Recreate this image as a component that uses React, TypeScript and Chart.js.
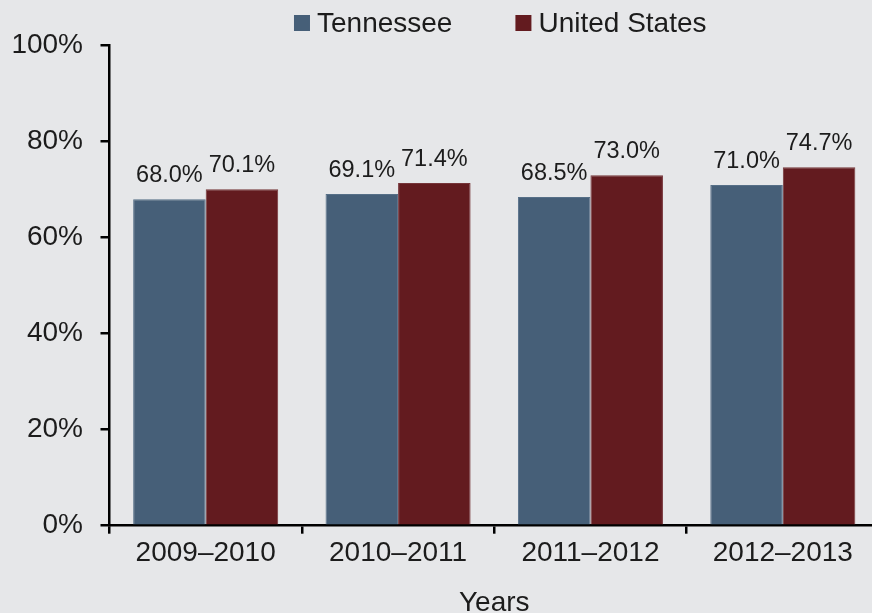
import React, { useEffect, useRef } from "react";
import { Chart, registerables } from "chart.js";

Chart.register(...registerables);

const categories = ["2009–2010", "2010–2011", "2011–2012", "2012–2013"];
const seriesNames = ["Tennessee", "United States"];
const tennessee = [68.0, 69.1, 68.5, 71.0];
const unitedStates = [70.1, 71.4, 73.0, 74.7];
const seriesColors = ["#465f78", "#631b1f"];
const seriesBorders = ["#566f87", "#763539"];
const yTicks = [0, 20, 40, 60, 80, 100];
const xTitle = "Years";

const FONT = "'Liberation Sans', Arial, Helvetica, sans-serif";
const TEXT = "#1c1c1c";
const BG = "#e6e7e9";

const W = 890;
const H = 625;

const valueLabels = {
  id: "valueLabels",
  afterDatasetsDraw(chart: any) {
    const ctx = chart.ctx;
    ctx.save();
    ctx.font = `23.5px ${FONT}`;
    ctx.fillStyle = TEXT;
    ctx.textAlign = "center";
    ctx.textBaseline = "alphabetic";
    chart.data.datasets.forEach((ds: any, i: number) => {
      const meta = chart.getDatasetMeta(i);
      meta.data.forEach((el: any, j: number) => {
        const v = ds.data[j] as number;
        ctx.fillText(v.toFixed(1) + "%", el.x, el.y - 17);
      });
    });
    ctx.restore();
  },
};

const customLegend = {
  id: "customLegend",
  afterDraw(chart: any) {
    const ctx = chart.ctx;
    const area = chart.chartArea;
    ctx.save();
    ctx.font = `28px ${FONT}`;
    ctx.textBaseline = "middle";
    ctx.textAlign = "left";
    const box = 16;
    const gap = 7;
    const itemGap = 63;
    const widths = seriesNames.map((n) => ctx.measureText(n).width);
    const total =
      widths.reduce((a, b) => a + box + gap + b, 0) + itemGap * (seriesNames.length - 1);
    let x = (area.left + area.right) / 2 + 6 - total / 2;
    const cy = 23;
    seriesNames.forEach((n, i) => {
      ctx.fillStyle = seriesColors[i];
      ctx.fillRect(x, cy - box / 2, box, box);
      ctx.fillStyle = TEXT;
      ctx.fillText(n, x + box + gap, cy + 1);
      x += box + gap + widths[i] + itemGap;
    });
    ctx.restore();
  },
};

export default function App() {
  const ref = useRef<HTMLCanvasElement | null>(null);

  useEffect(() => {
    if (!ref.current) return;
    const chart = new Chart(ref.current, {
      type: "bar",
      data: {
        labels: categories,
        datasets: [
          {
            label: seriesNames[0],
            data: tennessee,
            backgroundColor: seriesColors[0],
            borderColor: seriesBorders[0],
            borderWidth: 1,
            barPercentage: 1,
            categoryPercentage: 0.754,
          },
          {
            label: seriesNames[1],
            data: unitedStates,
            backgroundColor: seriesColors[1],
            borderColor: seriesBorders[1],
            borderWidth: 1,
            barPercentage: 1,
            categoryPercentage: 0.754,
          },
        ],
      },
      options: {
        responsive: false,
        animation: false,
        devicePixelRatio: 1,
        layout: { padding: { top: 45.7, right: 11, bottom: 0, left: 0 } },
        plugins: {
          legend: { display: false },
          tooltip: { enabled: false },
        },
        scales: {
          x: {
            grid: {
              drawOnChartArea: false,
              drawTicks: true,
              tickLength: 8,
              color: "#000",
              lineWidth: 2.5,
              offset: true,
            },
            border: { display: true, color: "#000", width: 2.5 },
            ticks: {
              color: TEXT,
              font: { family: FONT, size: 28 },
              padding: 3,
              maxRotation: 0,
            },
            title: {
              display: true,
              text: xTitle,
              color: TEXT,
              font: { family: FONT, size: 28 },
              padding: { top: 0, bottom: 5 },
            },
            afterFit(scale: any) {
              scale.height = H - 525.7;
            },
          },
          y: {
            min: 0,
            max: 100,
            afterBuildTicks(scale: any) {
              scale.ticks = yTicks.map((v) => ({ value: v }));
            },
            grid: {
              drawOnChartArea: false,
              drawTicks: true,
              tickLength: 9,
              color: "#000",
              lineWidth: 2.5,
            },
            border: { display: true, color: "#000", width: 2.5 },
            ticks: {
              color: TEXT,
              font: { family: FONT, size: 28 },
              padding: 17.5,
              callback: (v: any) => v + "%",
            },
            afterFit(scale: any) {
              scale.width = 109.5;
            },
          },
        },
      },
      plugins: [valueLabels, customLegend],
    });
    return () => chart.destroy();
  }, []);

  return (
    <div
      style={{
        position: "absolute",
        left: 0,
        top: 0,
        width: 872,
        height: 613,
        overflow: "hidden",
        background: BG,
      }}
    >
      <canvas ref={ref} width={W} height={H} style={{ display: "block", width: W, height: H }} />
    </div>
  );
}
